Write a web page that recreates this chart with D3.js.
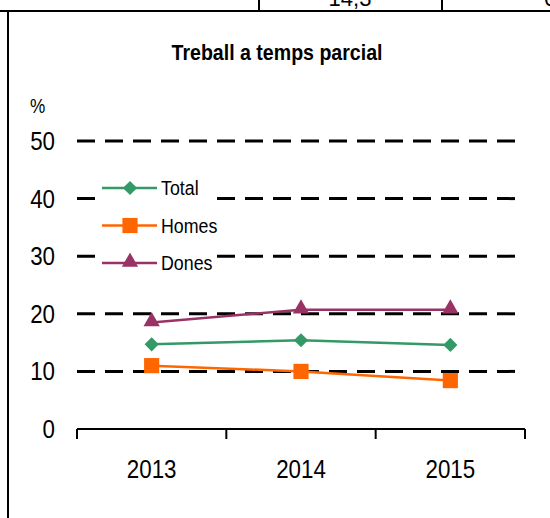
<!DOCTYPE html>
<html>
<head>
    <meta charset="utf-8">
    <style>
        body { margin: 0; background: white; }
        svg { display: block; }
        text { font-family: 'Liberation Sans', Arial, sans-serif; fill: black; }
    </style>
</head>
<body>
<svg width="550" height="518"></svg>

<script src="https://d3js.org/d3.v7.min.js"></script>
<script>
    // data
    let years = ["2013", "2014", "2015"]
    let total = [14.7, 15.4, 14.6]
    let homes = [11.0, 10.0, 8.4]
    let dones = [18.5, 20.7, 20.7]
    let yTicks = [0, 10, 20, 30, 40, 50]

    let series = [
        { name: "Total", values: total, color: "#339966", shape: "diamond" },
        { name: "Homes", values: homes, color: "#ff6600", shape: "square" },
        { name: "Dones", values: dones, color: "#993366", shape: "triangle" }
    ]

    let svg = d3.select("svg")

    // narrow-looking text: plain Liberation Sans squeezed sideways
    function narrowText(g, tx, ty, str, size, sx, anchor) {
        return g.append("text")
            .attr("transform", `translate(${tx},${ty}) scale(${sx},1)`)
            .attr("text-anchor", anchor || "start")
            .attr("font-size", size)
            .text(str)
    }

    function marker(g, shape, color, cx, cy) {
        let sym
        if (shape == "diamond") {
            sym = g.append("path").attr("d", d3.symbol().type(d3.symbolSquare).size(100))
                .attr("transform", `translate(${cx},${cy}) rotate(45)`)
        } else if (shape == "square") {
            sym = g.append("path").attr("d", d3.symbol().type(d3.symbolSquare).size(230))
                .attr("transform", `translate(${cx},${cy})`)
        } else {
            sym = g.append("path").attr("d", d3.symbol().type(d3.symbolTriangle).size(115))
                .attr("transform", `translate(${cx},${cy - 1})`)
        }
        sym.attr("fill", color)
    }

    // bits of the table the chart sits in
    svg.append("line").attr("x1", 0).attr("x2", 550).attr("y1", 11).attr("y2", 11)
        .attr("stroke", "black").attr("stroke-width", 2)
    svg.append("line").attr("x1", 8).attr("x2", 8).attr("y1", 11).attr("y2", 518)
        .attr("stroke", "black").attr("stroke-width", 2)
    svg.append("line").attr("x1", 259).attr("x2", 259).attr("y1", 0).attr("y2", 11)
        .attr("stroke", "black").attr("stroke-width", 2)
    svg.append("line").attr("x1", 442).attr("x2", 442).attr("y1", 0).attr("y2", 11)
        .attr("stroke", "black").attr("stroke-width", 2)
    svg.append("text").attr("x", 350).attr("y", 6).attr("text-anchor", "middle")
        .attr("font-size", 22).text("14,3")
    svg.append("text").attr("x", 544).attr("y", 6)
        .attr("font-size", 22).text("6")

    let x = d3.scaleBand().domain(years).range([77, 525])
    let y = d3.scaleLinear().domain([0, 50]).range([429, 141])

    // title
    narrowText(svg, 277, 60, "Treball a temps parcial", 22, 0.89, "middle")
        .attr("font-weight", "bold")

    narrowText(svg, 30, 113, "%", 20, 0.86)

    // dashed gridlines
    svg.append("g")
        .selectAll("line")
        .data(yTicks.filter(d => d > 0))
        .join("line")
        .attr("x1", 77).attr("x2", 525)
        .attr("y1", d => y(d)).attr("y2", d => y(d))
        .attr("stroke", "black")
        .attr("stroke-width", 3)
        .attr("stroke-dasharray", "18,10")

    // y labels
    let yLab = svg.append("g")
    yTicks.forEach(d => narrowText(yLab, 55, y(d) + 9, d, 26, 0.86, "end"))

    // x axis
    let xAxis = svg.append("g")
    xAxis.append("line").attr("x1", 77).attr("x2", 525).attr("y1", y(0)).attr("y2", y(0))
        .attr("stroke", "black").attr("stroke-width", 2)
    xAxis.selectAll(".tick")
        .data([...years.map(d => x(d)), x(years[years.length - 1]) + x.bandwidth()])
        .join("line")
        .attr("x1", d => d).attr("x2", d => d)
        .attr("y1", y(0)).attr("y2", y(0) + 10)
        .attr("stroke", "black").attr("stroke-width", 2)
    years.forEach(d => narrowText(xAxis, x(d) + x.bandwidth() / 2, 478, d, 26, 0.86, "middle"))

    // lines and markers
    let line = d3.line()
        .x((d, i) => x(years[i]) + x.bandwidth() / 2)
        .y(d => y(d))

    series.forEach(s => {
        svg.append("path")
            .datum(s.values)
            .attr("d", line)
            .attr("fill", "none")
            .attr("stroke", s.color)
            .attr("stroke-width", 2.5)

        let g = svg.append("g")
        s.values.forEach((v, i) => marker(g, s.shape, s.color, x(years[i]) + x.bandwidth() / 2, y(v)))
    })

    // legend with white background over the gridlines
    let legend = svg.append("g")
    legend.append("rect").attr("x", 96).attr("y", 172).attr("width", 121).attr("height", 106)
        .attr("fill", "white")
    series.forEach((s, i) => {
        let ly = 188 + i * 37.5
        legend.append("line").attr("x1", 102).attr("x2", 157).attr("y1", ly).attr("y2", ly)
            .attr("stroke", s.color).attr("stroke-width", 2.5)
        marker(legend, s.shape, s.color, 130, ly)
        narrowText(legend, 161, ly + 7, s.name, 20, 0.89)
    })
</script>
</body>
</html>
